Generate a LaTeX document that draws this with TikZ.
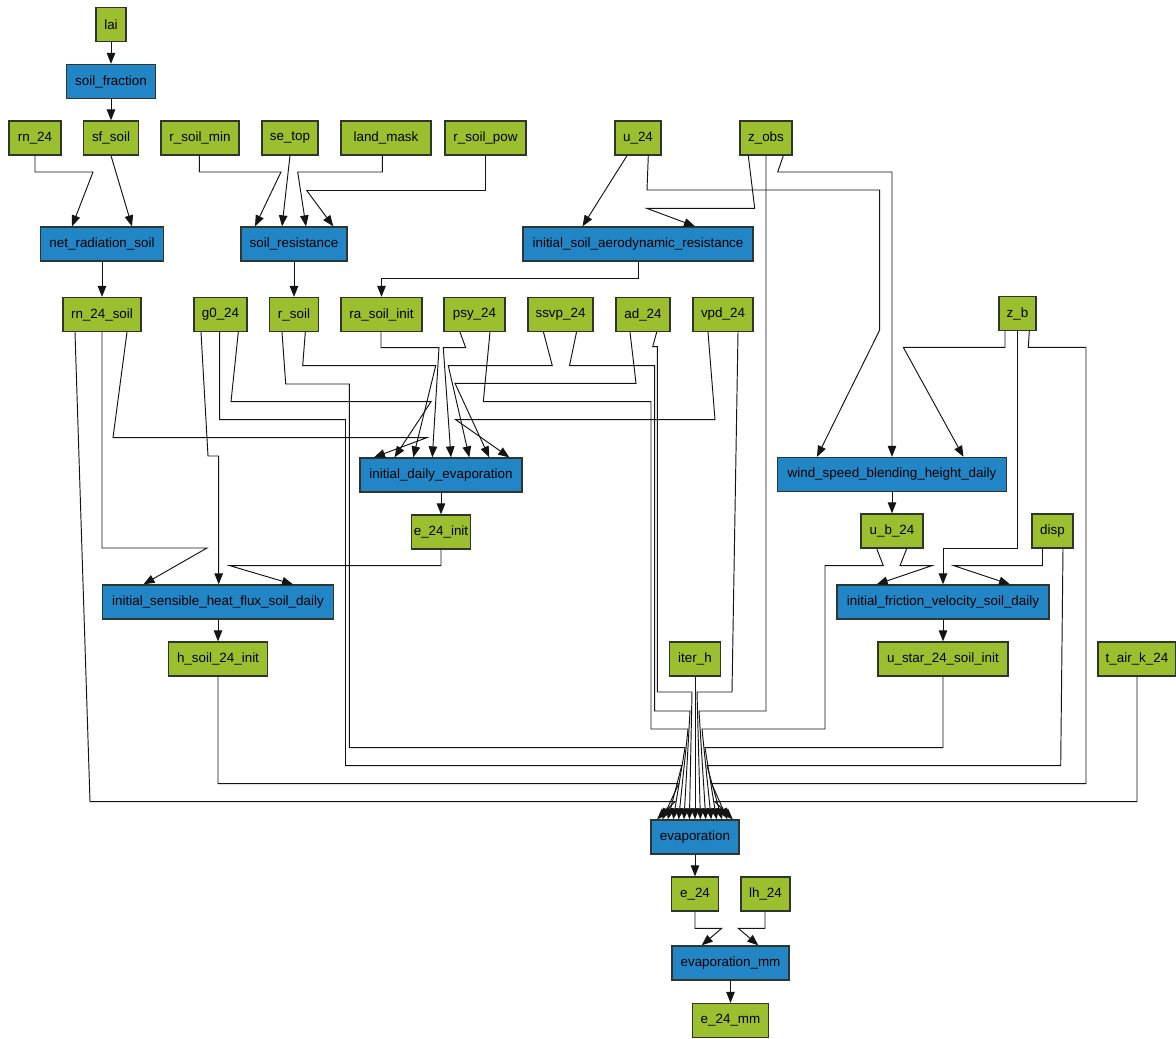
\documentclass[tikz,border=0pt]{standalone}
\usepackage{fontspec}
\setmainfont{Liberation Sans}
\usetikzlibrary{arrows.meta}
\definecolor{leaf}{RGB}{156,191,48}
\definecolor{sky}{RGB}{34,134,198}
\definecolor{rim}{RGB}{45,55,45}
\definecolor{wire}{RGB}{20,20,20}
\begin{document}
\begin{tikzpicture}[x=1pt,y=-1pt,
  box/.style={draw=rim,line width=1.3pt,minimum height=34pt,inner sep=0pt,
    font=\fontsize{13.4}{15}\selectfont},
  var/.style={box,fill=leaf,minimum width=#1},
  fn/.style={box,fill=sky,minimum width=#1},
  e/.style={draw=wire,line width=0.95pt,-{Triangle[length=11pt,width=8.5pt]}}]
\fill[white] (0,0) rectangle (1176,1039);
\useasboundingbox (0,0) rectangle (1176,1039);

% ---- variables and functions ----
\node[var=30pt] (lai) at (111,24.5) {lai};
\node[fn=89pt] (soilfraction) at (111,81.5) {soil\_fraction};
\node[var=52pt] (rn24) at (35,138) {rn\_24};
\node[var=55pt] (sfsoil) at (111,138) {sf\_soil};
\node[var=78pt] (rsoilmin) at (200,138) {r\_soil\_min};
\node[var=56pt] (setop) at (290,138) {se\_top};
\node[var=90pt] (landmask) at (386,138) {land\_mask};
\node[var=81pt] (rsoilpow) at (485.5,138) {r\_soil\_pow};
\node[var=46pt] (u24) at (638,138) {u\_24};
\node[var=52pt] (zobs) at (766,138) {z\_obs};
\node[fn=123pt] (netrad) at (102,244) {net\_radiation\_soil};
\node[fn=106pt] (soilres) at (294,244) {soil\_resistance};
\node[fn=230pt] (isar) at (638,244) {initial\_soil\_aerodynamic\_resistance};
\node[var=78pt] (rn24soil) at (102,314.5) {rn\_24\_soil};
\node[var=53pt] (g024) at (220.5,314.5) {g0\_24};
\node[var=49pt] (rsoil) at (294,314.5) {r\_soil};
\node[var=81pt] (rasoilinit) at (381.5,314.5) {ra\_soil\_init};
\node[var=61pt] (psy24) at (474.5,314.5) {psy\_24};
\node[var=65pt] (ssvp24) at (560.5,314.5) {ssvp\_24};
\node[var=54pt] (ad24) at (643,314.5) {ad\_24};
\node[var=60pt] (vpd24) at (723,314.5) {vpd\_24};
\node[var=37pt] (zb) at (1017.5,313.5) {z\_b};
\node[fn=162pt] (ide) at (441,475) {initial\_daily\_evaporation};
\node[fn=229pt] (wsbh) at (892,474.5) {wind\_speed\_blending\_height\_daily};
\node[var=59pt] (e24init) at (441,532) {e\_24\_init};
\node[var=62pt] (ub24) at (892,531) {u\_b\_24};
\node[var=41pt] (disp) at (1052.5,531) {disp};
\node[fn=231pt] (ishf) at (218,602) {initial\_sensible\_heat\_flux\_soil\_daily};
\node[fn=212pt] (ifv) at (943,602) {initial\_friction\_velocity\_soil\_daily};
\node[var=99pt] (hsoil) at (218,659) {h\_soil\_24\_init};
\node[var=51pt] (iterh) at (695,659) {iter\_h};
\node[var=130pt] (ustar) at (943,659) {u\_star\_24\_soil\_init};
\node[var=78pt] (tair) at (1137,659) {t\_air\_k\_24};
\node[fn=88pt] (evap) at (695,837) {evaporation};
\node[var=47pt] (e24) at (695,894) {e\_24};
\node[var=49pt] (lh24) at (765.5,894) {lh\_24};
\node[fn=117pt] (evapmm) at (730.5,963) {evaporation\_mm};
\node[var=76pt] (e24mm) at (730.5,1020.5) {e\_24\_mm};

% ---- upper part ----
\draw[e] (lai) -- (soilfraction);
\draw[e] (soilfraction) -- (sfsoil);
\draw[e] (rn24.south) -- (35,172) -- (93,172) -- ([xshift=-30pt]netrad.north);
\draw[e] (sfsoil.south) -- ([xshift=30pt]netrad.north);
\draw[e] ([xshift=-0.7pt]rsoilmin.south) -- (199.3,172) -- (281,172) -- ([xshift=-39pt]soilres.north);
\draw[e] (setop.south) -- ([xshift=-12pt]soilres.north);
\draw[e] ([xshift=-3.7pt]landmask.south) -- (382.3,172) -- (297.7,172) -- ([xshift=12pt]soilres.north);
\draw[e] (rsoilpow.south) -- (485.5,190.5) -- (306.7,190.5) -- ([xshift=39.3pt]soilres.north);
\draw[e] (netrad) -- (rn24soil);
\draw[e] (soilres) -- (rsoil);
\draw[e] ([xshift=-11pt]u24.south) -- ([xshift=-55.5pt]isar.north);
\draw[e] ([xshift=10.3pt]u24.south) -- (647,190) -- (879.7,190) -- (879.7,330) -- ([xshift=-75pt]wsbh.north);
\draw[e] ([xshift=-17.7pt]zobs.south) -- (754.7,208.3) -- (646.7,208.3) -- ([xshift=57pt]isar.north);
\draw[e] ([xshift=17.3pt]zobs.south) -- (777.7,172) -- (892,172) -- (wsbh.north);
\draw[e] ([xshift=0.7pt]isar.south) -- (638.7,278) -- (381.5,278) -- (rasoilinit.north);
\draw[e] ([xshift=-12.5pt]zb.south) -- (1005,347.3) -- (903.3,347.3) -- ([xshift=71.5pt]wsbh.north);
\draw[e] ([xshift=-0.5pt]zb.south) -- (1017,548) -- (943,548) -- (ifv.north);

% ---- into initial_daily_evaporation ----
\draw[e] ([xshift=25pt]rn24soil.south) -- (113,437.7) -- (426.7,437.7) -- ([xshift=-67pt]ide.north);
\draw[e] ([xshift=17.8pt]g024.south) -- (231,401.7) -- (431,401.7) -- ([xshift=-46.5pt]ide.north);
\draw[e] ([xshift=11.3pt]rsoil.south) -- (302.7,365.7) -- (435.7,365.7) -- ([xshift=-27.7pt]ide.north);
\draw[e] ([xshift=-0.5pt]rasoilinit.south) -- (381,347.7) -- (439,347.7) -- ([xshift=-8.7pt]ide.north);
\draw[e] ([xshift=-14.5pt]psy24.south) -- (465.7,347.7) -- (443.3,347.7) -- ([xshift=10pt]ide.north);
\draw[e] ([xshift=-17pt]ssvp24.south) -- (552.3,365.7) -- (448.3,365.7) -- ([xshift=28.3pt]ide.north);
\draw[e] ([xshift=-13pt]ad24.south) -- (636,383.3) -- (455,383.3) -- ([xshift=48.3pt]ide.north);
\draw[e] ([xshift=-15pt]vpd24.south) -- (715,419.7) -- (455.7,419.7) -- ([xshift=68.3pt]ide.north);
\draw[e] (ide) -- (e24init);

% ---- middle functions ----
\draw[e] (rn24soil.south) -- (102,548) -- (207,548) -- ([xshift=-74.5pt]ishf.north);
\draw[e] ([xshift=-19.5pt]g024.south) -- (208,456) -- (218.7,456) -- ([xshift=0.7pt]ishf.north);
\draw[e] (e24init.south) -- (441,565.7) -- (230,565.7) -- ([xshift=75pt]ishf.north);
\draw[e] (ishf) -- (hsoil);
\draw[e] (wsbh) -- (ub24);
\draw[e] ([xshift=14.7pt]ub24.south) -- (900,565.7) -- (931.7,565.7) -- ([xshift=-66.3pt]ifv.north);
\draw[e] ([xshift=-10pt]disp.south) -- (1042.5,565.7) -- (954,565.7) -- ([xshift=67pt]ifv.north);
\draw[e] (ifv) -- (ustar);

% ---- into evaporation ----
\draw[e] ([xshift=-27pt]rn24soil.south) -- (90,801.7) -- (675,801.7) -- ([xshift=-38pt]evap.north);
\draw[e] (hsoil.south) -- (218,783.7) -- (678.7,783.7) -- ([xshift=-32.6pt]evap.north);
\draw[e] ([xshift=-0.8pt]g024.south) -- (219.7,419.7) -- (345.5,419.7) -- (345.5,765.7) -- (681.7,765.7) -- ([xshift=-27.2pt]evap.north);
\draw[e] ([xshift=-12pt]rsoil.south) -- (285.7,384) -- (349.4,384) -- (349.4,747.7) -- (685,747.7) -- ([xshift=-21.8pt]evap.north);
\draw[e] ([xshift=15.5pt]psy24.south) -- (483.3,401.7) -- (651,401.7) -- (651,729) -- (688,729) -- ([xshift=-16.4pt]evap.north);
\draw[e] ([xshift=16pt]ssvp24.south) -- (569.5,365.7) -- (654.7,365.7) -- (654.7,711) -- (690,711) -- ([xshift=-11pt]evap.north);
\draw[e] ([xshift=13.7pt]ad24.south) -- (652.7,346.7) -- (657.3,346.7) -- (657.3,692) -- (692,692) -- ([xshift=-5.6pt]evap.north);
\draw[e] (iterh) -- (evap);
\draw[e] ([xshift=15pt]vpd24.south) -- (732,692) -- (697,692) -- ([xshift=5.4pt]evap.north);
\draw[e] (zobs.south) -- (766,711) -- (699,711) -- ([xshift=10.8pt]evap.north);
\draw[e] ([xshift=-15.3pt]ub24.south) -- (883.3,565.7) -- (825,565.7) -- (825,729) -- (702,729) -- ([xshift=16.2pt]evap.north);
\draw[e] (ustar.south) -- (943,747.7) -- (705,747.7) -- ([xshift=21.6pt]evap.north);
\draw[e] ([xshift=10.5pt]disp.south) -- (1060.7,765.7) -- (707,765.7) -- ([xshift=27pt]evap.north);
\draw[e] ([xshift=11.8pt]zb.south) -- (1028.3,347.3) -- (1086,347.3) -- (1086,783.7) -- (711.7,783.7) -- ([xshift=32.4pt]evap.north);
\draw[e] (tair.south) -- (1137,801.7) -- (715,801.7) -- ([xshift=37.8pt]evap.north);

% ---- lower chain ----
\draw[e] (evap) -- (e24);
\draw[e] (e24.south) -- (695,928.3) -- (721.7,928.3) -- ([xshift=-28.8pt]evapmm.north);
\draw[e] ([xshift=-0.5pt]lh24.south) -- (765,928.3) -- (738.3,928.3) -- ([xshift=27.8pt]evapmm.north);
\draw[e] (evapmm) -- (e24mm);
\end{tikzpicture}
\end{document}
